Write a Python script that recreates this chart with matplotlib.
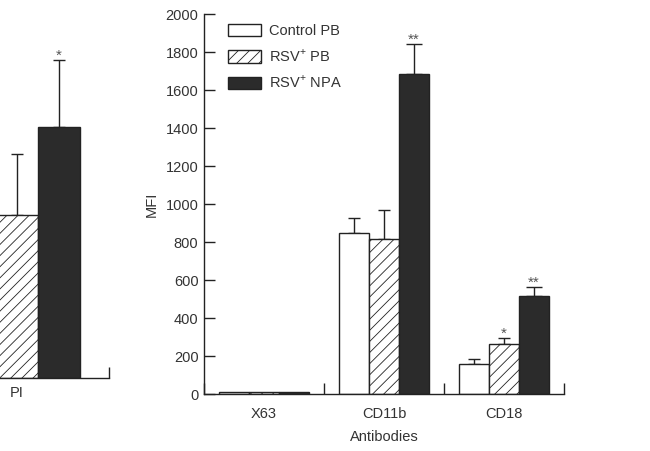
import numpy as np
import matplotlib
matplotlib.use('Agg')
import matplotlib.pyplot as plt

# data
antibodies = ['X63', 'CD11b', 'CD18']
series = ['Control PB', 'RSV$^\\mathregular{+}$ PB', 'RSV$^\\mathregular{+}$ NPA']
control_pb = [12, 847, 158]
control_pb_err = [0, 78, 25]
rsv_pb = [12, 817, 263]
rsv_pb_err = [0, 150, 33]
rsv_npa = [12, 1682, 517]
rsv_npa_err = [0, 158, 48]
stars_pb = ['', '', '*']
stars_npa = ['', '**', '**']

# partly visible left panel (cut off by the crop)
left_category = ['PI']
left_rsv_pb = [895]
left_rsv_pb_err = [335]
left_rsv_npa = [1380]
left_rsv_npa_err = [365]
left_stars_npa = ['*']

plt.rcParams['font.family'] = ['Liberation Sans', 'DejaVu Sans']
plt.rcParams['mathtext.fontset'] = 'custom'
plt.rcParams['mathtext.rm'] = 'Liberation Sans'
plt.rcParams['hatch.linewidth'] = 0.6
plt.rcParams['hatch.color'] = '#555555'

INK = '#222222'
TXT = '#333333'
DARK = '#2b2b2b'
FS = 10.5

W, H = 650, 451
fig = plt.figure(figsize=(W / 100, H / 100), dpi=100)


def frac(x0, y0, x1, y1):
    """pixel box (left, top, right, bottom) -> figure fraction rect"""
    return [x0 / W, 1 - y1 / H, (x1 - x0) / W, (y1 - y0) / H]


def style_bars(bars, kind):
    for b in bars:
        b.set_edgecolor(INK)
        b.set_linewidth(1.0)
        if kind == 'open':
            b.set_facecolor('white')
        elif kind == 'hatch':
            b.set_facecolor('white')
            b.set_hatch('///')
        else:
            b.set_facecolor(DARK)


def up_err(ax, x, y, err, cap):
    ax.errorbar(x, y, yerr=[np.zeros(len(err)), err], fmt='none',
                ecolor=INK, elinewidth=1.0, capsize=cap, capthick=1.0,
                zorder=1)


def put_stars(ax, x, y, err, stars):
    for xi, yi, ei, s in zip(x, y, err, stars):
        if s:
            ax.annotate(s, (xi, yi + ei), xytext=(0, -2),
                        textcoords='offset points', ha='center', va='bottom',
                        fontsize=11, color='#555555')


# ---- main panel ----
ax = fig.add_axes(frac(204, 14, 564, 394))
x = np.arange(len(antibodies))
w = 0.25

b1 = ax.bar(x - w, control_pb, w, label=series[0], zorder=2)
b2 = ax.bar(x, rsv_pb, w, label=series[1], zorder=2)
b3 = ax.bar(x + w, rsv_npa, w, label=series[2], zorder=2)
style_bars(b1, 'open')
style_bars(b2, 'hatch')
style_bars(b3, 'dark')

up_err(ax, x[1:] - w, control_pb[1:], control_pb_err[1:], 4.5)
up_err(ax, x[1:], rsv_pb[1:], rsv_pb_err[1:], 4.5)
up_err(ax, x[1:] + w, rsv_npa[1:], rsv_npa_err[1:], 5.5)
put_stars(ax, x, rsv_pb, rsv_pb_err, stars_pb)
put_stars(ax, x + w, rsv_npa, rsv_npa_err, stars_npa)

ax.set_xlim(-0.5, len(antibodies) - 0.5)
ax.set_ylim(0, 2000)
ax.set_yticks(np.arange(0, 2001, 200))
ax.set_xticks(np.arange(len(antibodies) + 1) - 0.5)
ax.set_xticklabels([])
ax.set_xticks(x, minor=True)
ax.set_xticklabels(antibodies, minor=True)
ax.tick_params(axis='x', which='major', direction='in', length=8,
               width=1.0, color=INK)
ax.tick_params(axis='x', which='minor', length=0, pad=9, labelsize=FS,
               labelcolor=TXT)
ax.tick_params(axis='y', direction='in', length=8, width=1.0, color=INK,
               pad=4, labelsize=FS, labelcolor=TXT)
for s in ['top', 'right']:
    ax.spines[s].set_visible(False)
for s in ['left', 'bottom']:
    ax.spines[s].set_linewidth(1.0)
    ax.spines[s].set_color(INK)
ax.set_xlabel('Antibodies', fontsize=FS, color=TXT, labelpad=7)
ax.set_ylabel('MFI', fontsize=FS, color=TXT, labelpad=5)

leg = ax.legend(loc='upper left', bbox_to_anchor=(0.067, 0.975),
                frameon=False, fontsize=FS, handlelength=2.25,
                handleheight=0.95, handletextpad=0.55, labelspacing=0.68,
                borderpad=0, borderaxespad=0)
for t in leg.get_texts():
    t.set_color(TXT)

# ---- left panel, cut off at the figure edge ----
axl = fig.add_axes(frac(-75, 14, 109, 378))
xl = np.arange(len(left_category))
wl = 0.228
c2 = axl.bar(xl, left_rsv_pb, wl, zorder=2)
c3 = axl.bar(xl + wl, left_rsv_npa, wl, zorder=2)
style_bars(c2, 'hatch')
style_bars(c3, 'dark')
up_err(axl, xl, left_rsv_pb, left_rsv_pb_err, 4.5)
up_err(axl, xl + wl, left_rsv_npa, left_rsv_npa_err, 4.5)
put_stars(axl, xl + wl, left_rsv_npa, left_rsv_npa_err, left_stars_npa)

axl.set_xlim(-0.5, 0.5)
axl.set_ylim(0, 2000)
axl.set_yticks([])
axl.set_xticks([0.5])
axl.set_xticklabels([])
axl.set_xticks(xl, minor=True)
axl.set_xticklabels(left_category, minor=True)
axl.tick_params(axis='x', which='major', direction='in', length=8,
                width=1.0, color=INK)
axl.tick_params(axis='x', which='minor', length=0, pad=6, labelsize=FS,
                labelcolor=TXT)
for s in ['top', 'right', 'left']:
    axl.spines[s].set_visible(False)
axl.spines['bottom'].set_linewidth(1.0)
axl.spines['bottom'].set_color(INK)

fig.savefig('out.png', dpi=100)
